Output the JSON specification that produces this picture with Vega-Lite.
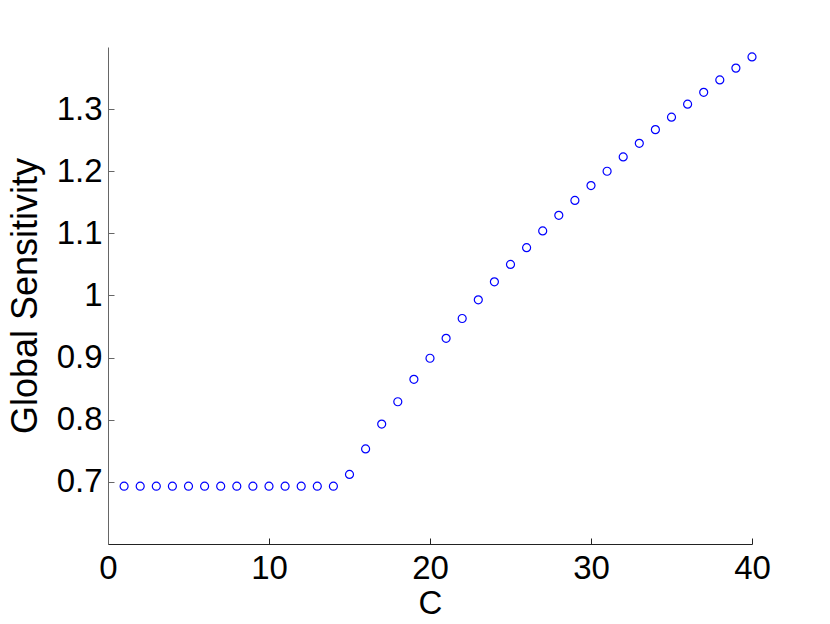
{
  "$schema": "https://vega.github.io/schema/vega-lite/v6.json",
  "autosize": "none",
  "width": 644,
  "height": 497,
  "padding": {"left": 108, "top": 47, "right": 78, "bottom": 80},
  "background": "white",
  "config": {"view": {"stroke": null}, "font": "Liberation Sans"},
  "data": {"values": [
    {"C": 1, "S": 0.693}, {"C": 2, "S": 0.693}, {"C": 3, "S": 0.693}, {"C": 4, "S": 0.693},
    {"C": 5, "S": 0.693}, {"C": 6, "S": 0.693}, {"C": 7, "S": 0.693}, {"C": 8, "S": 0.693},
    {"C": 9, "S": 0.693}, {"C": 10, "S": 0.693}, {"C": 11, "S": 0.693}, {"C": 12, "S": 0.693},
    {"C": 13, "S": 0.693}, {"C": 14, "S": 0.693}, {"C": 15, "S": 0.712}, {"C": 16, "S": 0.753},
    {"C": 17, "S": 0.793}, {"C": 18, "S": 0.829}, {"C": 19, "S": 0.865}, {"C": 20, "S": 0.899},
    {"C": 21, "S": 0.931}, {"C": 22, "S": 0.963}, {"C": 23, "S": 0.993}, {"C": 24, "S": 1.022},
    {"C": 25, "S": 1.050}, {"C": 26, "S": 1.077}, {"C": 27, "S": 1.104}, {"C": 28, "S": 1.129},
    {"C": 29, "S": 1.153}, {"C": 30, "S": 1.177}, {"C": 31, "S": 1.200}, {"C": 32, "S": 1.223},
    {"C": 33, "S": 1.245}, {"C": 34, "S": 1.267}, {"C": 35, "S": 1.287}, {"C": 36, "S": 1.308},
    {"C": 37, "S": 1.327}, {"C": 38, "S": 1.347}, {"C": 39, "S": 1.366}, {"C": 40, "S": 1.384}
  ]},
  "mark": {"type": "point", "shape": "circle", "filled": false, "color": "#0000ff", "size": 64, "strokeWidth": 1.2, "opacity": 1},
  "encoding": {
    "x": {
      "field": "C", "type": "quantitative",
      "scale": {"domain": [0, 40], "nice": false, "zero": false},
      "axis": {
        "title": "C", "values": [0, 10, 20, 30, 40], "grid": false,
        "domainColor": "#222222", "tickColor": "#222222", "tickSize": -6,
        "labelFontSize": 33, "labelColor": "black", "labelPadding": 14,
        "titleFontSize": 33, "titleFontWeight": "normal", "titleColor": "black", "titlePadding": 2,
        "labelFlush": false
      }
    },
    "y": {
      "field": "S", "type": "quantitative",
      "scale": {"domain": [0.6, 1.4], "nice": false, "zero": false},
      "axis": {
        "title": "Global Sensitivity", "values": [0.7, 0.8, 0.9, 1, 1.1, 1.2, 1.3], "format": "~g", "grid": false,
        "domainColor": "#666666", "tickColor": "#666666", "tickSize": -6,
        "labelFontSize": 33, "labelColor": "black", "labelPadding": 12,
        "titleFontSize": 36, "titleFontWeight": "normal", "titleColor": "black", "titlePadding": 12,
        "labelFlush": false
      }
    }
  }
}
